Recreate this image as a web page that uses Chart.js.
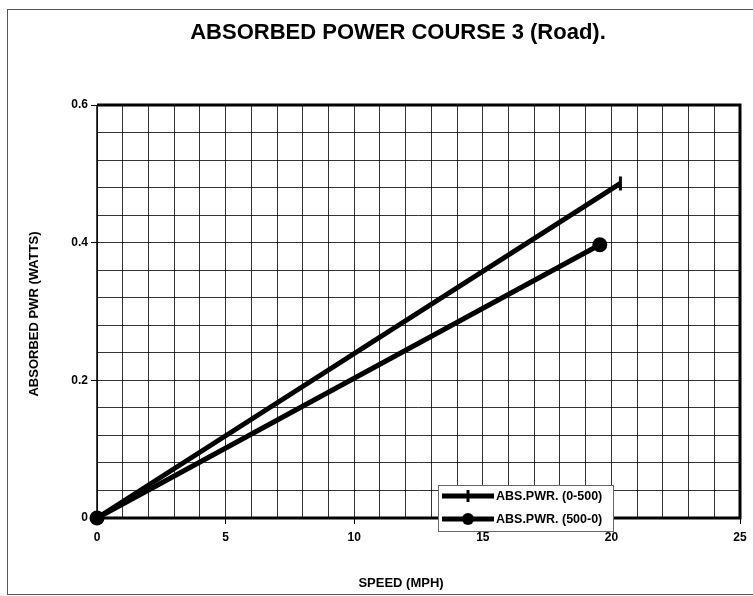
<!DOCTYPE html>
<html>
<head>
<meta charset="utf-8">
<script src="https://cdn.jsdelivr.net/npm/chart.js@4/dist/chart.umd.min.js"></script>
<style>
  html, body { margin: 0; padding: 0; background: #fff; }
  #wrap { width: 753px; height: 596px; position: relative; }
</style>
</head>
<body>
<div id="wrap"><canvas id="myChart" width="753" height="596"></canvas></div>
<script>
// data
const chartTitle = 'ABSORBED POWER COURSE 3 (Road).';
const xTitle = 'SPEED (MPH)';
const yTitle = 'ABSORBED PWR (WATTS)';
const seriesNames = ['ABS.PWR. (0-500)', 'ABS.PWR. (500-0)'];
const speed1 = [0, 20.35];
const power1 = [0, 0.486];
const speed2 = [0, 19.55];
const power2 = [0, 0.397];
const xLabelTicks = [0, 5, 10, 15, 20, 25];
const yLabelTicks = [0, 0.2, 0.4, 0.6];

const FONT = '"Liberation Sans", Arial, sans-serif';

function near(v, list) {
    return list.find(t => Math.abs(t - v) < 1e-6);
}

// frame, plot border, titles and legend
const paperPlugin = {
    id: 'paper',
    beforeDraw(chart) {
        const c = chart.ctx;
        c.save();
        c.fillStyle = '#fff';
        c.fillRect(0, 0, chart.width, chart.height);
        c.strokeStyle = '#555';
        c.lineWidth = 1;
        c.strokeRect(7.5, 9.5, 800, 585);
        c.restore();
    },
    beforeDatasetsDraw(chart) {
        const a = chart.chartArea;
        const c = chart.ctx;
        c.save();
        c.strokeStyle = '#000';
        c.lineWidth = 3;
        c.beginPath();
        c.moveTo(a.left, a.top);
        c.lineTo(a.right, a.top);
        c.lineTo(a.right, a.bottom);
        c.lineTo(a.left, a.bottom);
        c.stroke();
        c.lineWidth = 1.5;
        c.beginPath();
        c.moveTo(a.left, a.top);
        c.lineTo(a.left, a.bottom);
        c.stroke();
        c.restore();
    },
    afterDraw(chart) {
        const c = chart.ctx;
        c.save();
        c.fillStyle = '#000';
        c.textAlign = 'center';
        c.textBaseline = 'middle';
        c.font = 'bold 22px ' + FONT;
        c.fillText(chartTitle, 398, 33);
        c.font = 'bold 13px ' + FONT;
        c.fillText(xTitle, 401, 583);
        c.translate(34, 314);
        c.rotate(-Math.PI / 2);
        c.fillText(yTitle, 0, 0);
        c.restore();

        // legend box
        const bx = 438, by = 485, bw = 175, bh = 46;
        c.save();
        c.fillStyle = '#fff';
        c.fillRect(bx, by, bw, bh);
        c.strokeStyle = '#666';
        c.lineWidth = 1;
        c.strokeRect(bx + 0.5, by + 0.5, bw, bh);
        chart.data.datasets.forEach((ds, i) => {
            const y = by + 11 + i * 23;
            c.strokeStyle = '#000';
            c.lineWidth = 5;
            c.beginPath();
            c.moveTo(bx + 4, y);
            c.lineTo(bx + 56, y);
            c.stroke();
            if (i === 0) {
                c.lineWidth = 3;
                c.beginPath();
                c.moveTo(bx + 30, y - 6);
                c.lineTo(bx + 30, y + 6);
                c.stroke();
            } else {
                c.fillStyle = '#000';
                c.beginPath();
                c.arc(bx + 30, y, 6, 0, Math.PI * 2);
                c.fill();
            }
            c.fillStyle = '#000';
            c.font = 'bold 12.5px ' + FONT;
            c.textAlign = 'left';
            c.textBaseline = 'middle';
            c.fillText(ds.label, bx + 58, y + 1);
        });
        c.restore();
    }
};

const data = {
    datasets: [
        {
            label: seriesNames[0],
            data: speed1.map((x, i) => ({ x: x, y: power1[i] })),
            borderColor: '#000',
            backgroundColor: '#000',
            borderWidth: 5,
            pointStyle: 'line',
            rotation: 90,
            pointRadius: 7,
            pointBorderWidth: 3,
            clip: false
        },
        {
            label: seriesNames[1],
            data: speed2.map((x, i) => ({ x: x, y: power2[i] })),
            borderColor: '#000',
            backgroundColor: '#000',
            borderWidth: 5,
            pointStyle: 'circle',
            pointRadius: 7.5,
            pointBorderWidth: 0,
            clip: false
        }
    ]
};

const gridColor = 'rgba(0,0,0,0.8)';

const config = {
    type: 'line',
    data: data,
    plugins: [paperPlugin],
    options: {
        responsive: false,
        animation: false,
        layout: {
            padding: { top: 105, left: 57, right: 13, bottom: 48 }
        },
        scales: {
            x: {
                type: 'linear',
                min: 0,
                max: 25,
                afterFit: s => { s.height = 30; },
                border: { display: false },
                grid: {
                    color: gridColor,
                    lineWidth: 1,
                    tickLength: 6,
                    tickColor: ctx => near(ctx.tick.value, xLabelTicks) !== undefined ? '#000' : 'rgba(0,0,0,0)'
                },
                ticks: {
                    stepSize: 1,
                    autoSkip: false,
                    maxRotation: 0,
                    padding: 6,
                    color: '#000',
                    font: { family: FONT, size: 12, weight: 'bold' },
                    callback: v => {
                        const t = near(v, xLabelTicks);
                        return t === undefined ? '' : String(t);
                    }
                }
            },
            y: {
                min: 0,
                max: 0.6,
                afterFit: s => { s.width = 40; },
                border: { display: false },
                grid: {
                    color: gridColor,
                    lineWidth: 1,
                    tickLength: 6,
                    tickColor: ctx => near(ctx.tick.value, yLabelTicks) !== undefined ? '#000' : 'rgba(0,0,0,0)'
                },
                ticks: {
                    stepSize: 0.04,
                    maxTicksLimit: 100,
                    autoSkip: false,
                    padding: 3,
                    color: '#000',
                    font: { family: FONT, size: 12, weight: 'bold' },
                    callback: v => {
                        const t = near(v, yLabelTicks);
                        if (t === undefined) return '';
                        return t === 0 ? '0' : t.toFixed(1);
                    }
                }
            }
        },
        plugins: {
            legend: { display: false },
            title: { display: false },
            tooltip: { enabled: false }
        }
    }
};

new Chart(document.getElementById('myChart'), config);
</script>
</body>
</html>
